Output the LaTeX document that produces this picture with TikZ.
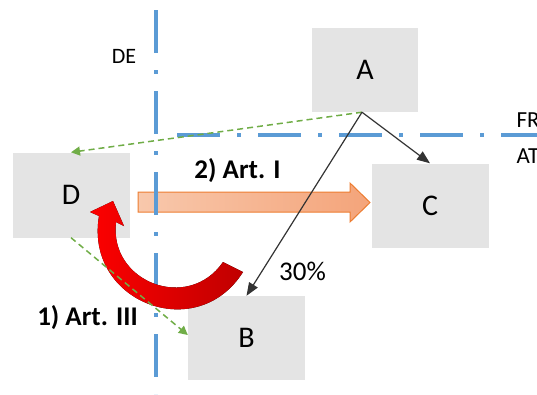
\documentclass[tikz,border=0pt]{standalone}
\usepackage{fontspec}
\setmainfont{Carlito}
\usetikzlibrary{arrows.meta}
\definecolor{boxgray}{RGB}{228,228,228}
\definecolor{lineblue}{RGB}{91,155,213}
\definecolor{dashgreen}{RGB}{112,173,71}
\definecolor{arrowred}{RGB}{255,0,0}
\definecolor{darkred}{RGB}{192,0,0}
\definecolor{peach}{RGB}{248,200,172}
\definecolor{peachdark}{RGB}{244,164,122}
\definecolor{peachline}{RGB}{237,125,49}
\begin{document}
\begin{tikzpicture}[x=1pt,y=-1pt,
  land/.style={fill=boxgray,minimum width=117pt,minimum height=84pt,inner sep=0pt,font=\fontsize{30}{34}\selectfont},
  border/.style={lineblue,line width=3.5pt,dash pattern=on 43pt off 17pt on 4pt off 17pt},
  flow/.style={dashgreen,line width=1.5pt,dash pattern=on 6pt off 4pt,-{Triangle[length=9pt,width=9pt]}},
  share/.style={black!80,line width=1.2pt,-{Triangle[length=13pt,width=10pt]}},
  lbl/.style={font=\fontsize{23}{26}\selectfont},
  steplabel/.style={font=\fontsize{27}{30}\selectfont\bfseries}]
\useasboundingbox (0,0) rectangle (537,394);
\clip (0,0) rectangle (537,394);

% countries
\node[land,minimum width=106pt] (A) at (365,70) {A};
\node[land] (C) at (430,205.5) {C};
\node[land,minimum height=85pt] (D) at (71,195) {D};
\node[land] (B) at (246.5,338) {B};

% step 2
\draw[peachline,line width=1pt,left color=peach,right color=peachdark] (138,192) -- (350,192) -- (350,183) -- (370,202.5) -- (350,222) -- (350,212) -- (138,212) -- cycle;

% borders
\draw[border] (156,10) -- (156,394);
\draw[border] (177,135) -- (537,135);

% step 1
\fill[left color=arrowred,right color=darkred] (243,272) .. controls (196.5,345.5) and (84.4,301.8) .. (99,216) -- (90,212) -- (113,201) -- (124,226) -- (116,222) .. controls (108.8,282.6) and (188.5,312.3) .. (223,262) -- cycle;

\coordinate (tap) at ([xshift=-3pt]A.south);
\draw[flow] (tap) -- (D.north);
\draw[flow] (D.south) -- ([yshift=3pt]B.west);
\draw[share] (tap) -- (C.north);
\draw[share] (tap) -- (B.north);

\node[lbl,font=\fontsize{22}{26}\selectfont] (de) at (124,56) {DE};
\node[lbl,anchor=west] (fr) at (513,120) {FR};
\node[lbl,anchor=west] (at) at (513,156) {AT};
\node[lbl,font=\fontsize{27}{30}\selectfont] (pct) at (302.5,271) {30\%};
\node[steplabel] (art1) at (237.5,171) {2) Art. I};
\node[steplabel] (art3) at (87.5,318) {1) Art. III};
\end{tikzpicture}
\end{document}
